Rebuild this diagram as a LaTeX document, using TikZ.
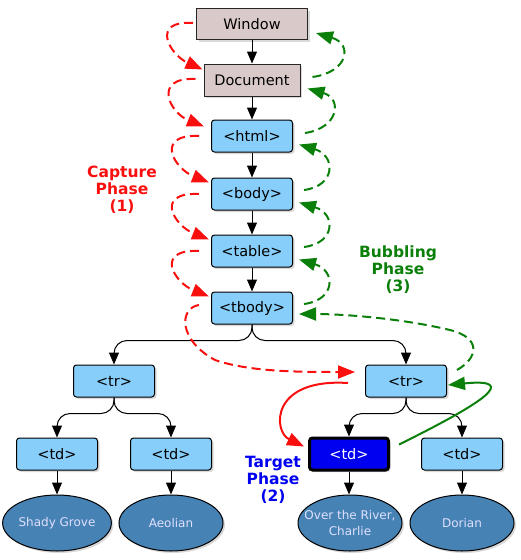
\documentclass[tikz,border=0pt]{standalone}
\usepackage{fontspec}
\setmainfont{DejaVu Sans}
\usetikzlibrary{arrows.meta,shapes.geometric,shadows,calc}
\definecolor{winfill}{HTML}{D9C9C9}
\definecolor{boxfill}{HTML}{87CEFA}
\definecolor{leaffill}{HTML}{4682B4}
\definecolor{capred}{HTML}{FA0F0F}
\definecolor{bubgreen}{HTML}{0A800A}
\definecolor{tgtblue}{HTML}{0000F0}
\begin{document}
\begin{tikzpicture}[x=1pt,y=-1pt,
  shadowed/.style={drop shadow={shadow xshift=2pt,shadow yshift=-2pt,opacity=0.3}},
  base/.style={draw=black, line width=1pt, font=\fontsize{14.5}{16}\selectfont, minimum height=32pt, inner sep=0pt, shadowed},
  winbox/.style={base, fill=winfill, draw=black!85},
  elbox/.style={base, fill=boxfill, rounded corners=3pt, minimum width=81pt},
  tgtbox/.style={elbox, fill=tgtblue, line width=3pt, text=white, minimum width=79pt, minimum height=32pt},
  leaf/.style={ellipse, draw=black, line width=1pt, fill=leaffill, text=white!88!blue, minimum width=104pt, minimum height=56pt, inner sep=0pt, font=\fontsize{12}{16}\selectfont, align=center, shadowed},
  tree/.style={-{Triangle[length=12pt,width=10pt]}, line width=1pt, rounded corners=13pt},
  capline/.style={capred, line width=2pt, dash pattern=on 9pt off 5pt, -{Triangle[length=17pt,width=13pt]}},
  capsolid/.style={capred, line width=2pt, -{Triangle[length=17pt,width=13pt]}},
  bubline/.style={bubgreen, line width=2pt, dash pattern=on 9pt off 5pt, -{Triangle[length=17pt,width=13pt]}},
  bubsolid/.style={bubgreen, line width=2pt, -{Triangle[length=17pt,width=13pt]}},
  phase/.style={font=\bfseries\fontsize{15.5}{17}\selectfont, align=center}
]
\useasboundingbox (0,0) rectangle (520,560);

% nodes
\node[winbox, minimum width=111pt, minimum height=31pt] (win) at (252,24) {Window};
\node[winbox, minimum width=96pt] (doc) at (252,80) {Document};
\node[elbox] (html) at (252,136) {<html>};
\node[elbox] (body) at (252,194) {<body>};
\node[elbox] (table) at (252,251) {<table>};
\node[elbox] (tbody) at (252,308) {<tbody>};
\node[elbox] (trL) at (114,381) {<tr>};
\node[elbox] (trR) at (406,381) {<tr>};
\node[elbox] (tdA) at (57,454) {<td>};
\node[elbox] (tdB) at (171,454) {<td>};
\node[tgtbox] (tdT) at (349,454) {<td>};
\node[elbox] (tdD) at (462,454) {<td>};
\node[leaf] (lA) at (57,523) {Shady Grove};
\node[leaf] (lB) at (171,523) {Aeolian};
\node[leaf] (lT) at (350,523) {\makebox[0pt][c]{Over the River,}\\Charlie};
\node[leaf] (lD) at (462,523) {Dorian};

% labels
\node[phase, text=capred] (capl) at (122,190) {Capture\\Phase\\(1)};
\node[phase, text=bubgreen] (bubl) at (398,270) {Bubbling\\Phase\\(3)};
\node[phase, text=tgtblue] (tgtl) at (273,480) {Target\\Phase\\(2)};

% tree edges
\draw[tree] (win.south) -- (doc.north);
\draw[tree] (doc.south) -- (html.north);
\draw[tree] (html.south) -- (body.north);
\draw[tree] (body.south) -- (table.north);
\draw[tree] (table.south) -- (tbody.north);
\draw[tree] (tbody.south) -- ++(0,16) -| (trL.north);
\draw[tree] (tbody.south) -- ++(0,16) -| (trR.north);
\draw[tree] (trL.south) -- ++(0,16) -| (tdA.north);
\draw[tree] (trL.south) -- ++(0,16) -| (tdB.north);
\draw[tree] (trR.south) -- ++(0,16) -| (tdT.north);
\draw[tree] (trR.south) -- ++(0,16) -| (tdD.north);
\draw[tree] (tdA.south) -- (lA.north);
\draw[tree] (tdB.south) -- (lB.north);
\draw[tree] (tdT.south) -- (tdT.south |- lT.north);
\draw[tree] (tdD.south) -- (lD.north);

% capture phase
\draw[capline] ($(win.west)+(-3,-1)$) .. controls +(-43,-3) and +(-33,-15) .. ($(doc.north west)+(-1,6)$);
\draw[capline] ($(doc.west)+(-8,-1)$) .. controls +(-43,-2) and +(-35,-14) .. ($(html.north west)+(-7,7)$);
\draw[capline] ($(html.west)+(-12,0)$) .. controls +(-45,-2) and +(-35,-14) .. ($(body.north west)+(-2,5)$);
\draw[capline] ($(body.west)+(-12,0)$) .. controls +(-45,-2) and +(-35,-14) .. ($(table.north west)+(-2,5)$);
\draw[capline] ($(table.west)+(-12,0)$) .. controls +(-45,-2) and +(-35,-14) .. ($(tbody.north west)+(-2,5)$);
\coordinate (rmid) at (215,360);
\draw[capline] ($(tbody.west)+(-12,-3)$) .. controls +(-20,3) and +(-37,-20) .. (rmid) .. controls +(35,12) and +(-55,0) .. ($(trR.west)+(-10,-9)$);

% target phase
\draw[capsolid] ($(trR.west)+(-17,2)$) .. controls +(-78,-5) and +(-31,-15) .. ($(tdT.north west)+(-4,10)$);
\draw[bubsolid] ($(tdT.north east)+(9,8)$) .. controls +(85,-42) and +(72,-7) .. ($(trR.east)+(1,4)$);

% bubbling phase
\coordinate (gmid) at (450,330);
\draw[bubline] ($(trR.east)+(10,-11)$) .. controls +(21,-12) and +(32,8) .. (gmid) .. controls +(-50,-12) and +(42,0) .. ($(tbody.east)+(6,6)$);
\draw[bubline] ($(tbody.east)+(11,-4)$) .. controls +(32,-4) and +(37,11) .. ($(table.south east)+(6,-8)$);
\draw[bubline] ($(table.east)+(11,-4)$) .. controls +(32,-4) and +(37,11) .. ($(body.south east)+(6,-8)$);
\draw[bubline] ($(body.east)+(11,-4)$) .. controls +(32,-4) and +(37,11) .. ($(html.south east)+(6,-8)$);
\draw[bubline] ($(html.east)+(12,-3)$) .. controls +(34,-5) and +(35,10) .. ($(doc.south east)+(7,-8)$);
\draw[bubline] ($(doc.east)+(12,-3)$) .. controls +(36,-5) and +(37,11) .. ($(win.south east)+(8,-7)$);
\end{tikzpicture}
\end{document}
